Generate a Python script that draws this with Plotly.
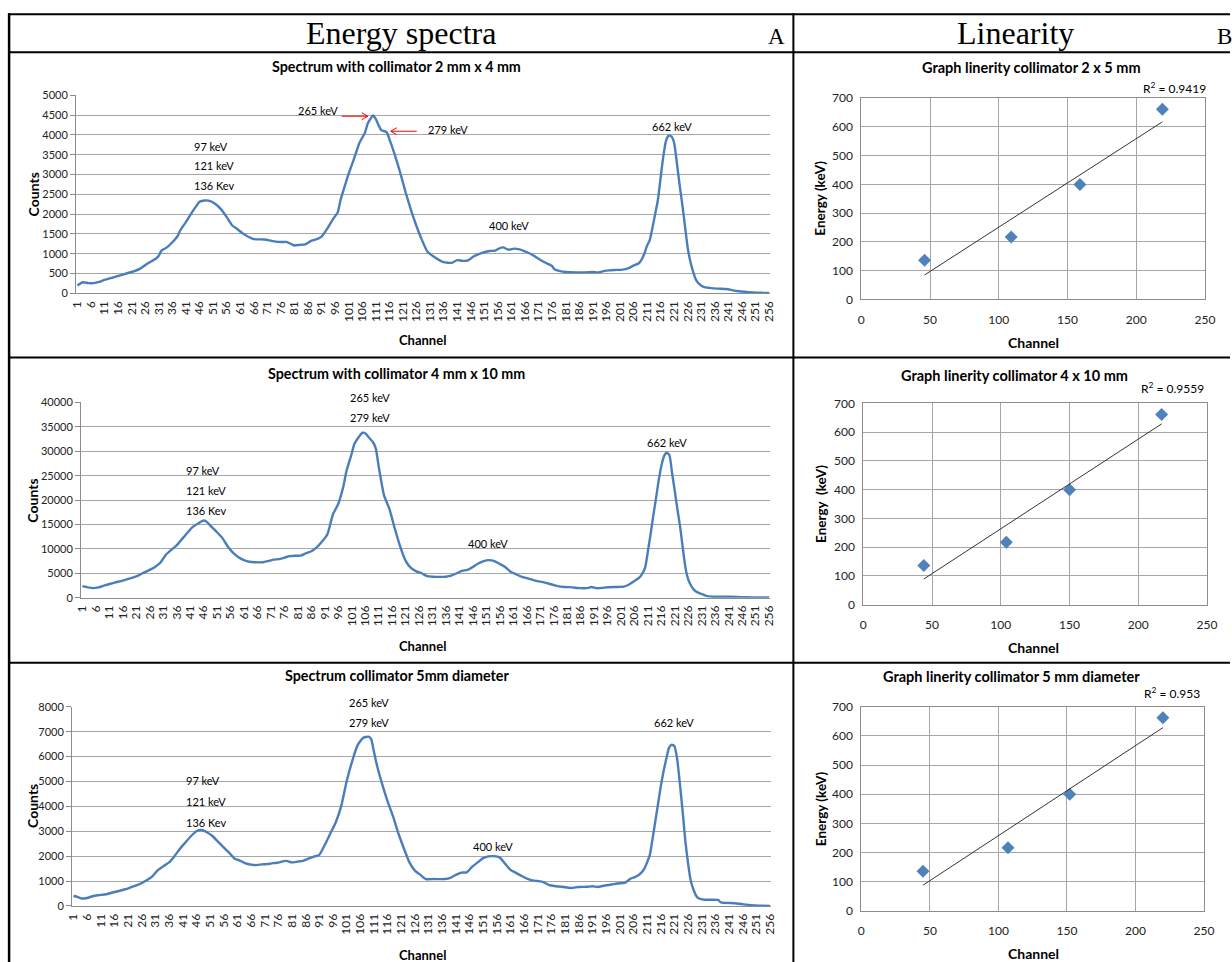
import plotly.graph_objects as go
import numpy as np

# Layout is specified in reference-image pixels and mapped to the page.
REF_W, REF_H = 1232, 962
OX, OY = 8, 8
SX, SY = REF_W / (REF_W + 2 * OX), REF_H / (REF_H + 2 * OY)
W, H = REF_W + OX, REF_H + OY

# ---------------- DATA ----------------
# Spectrum 1: collimator 2 mm x 4 mm (channel, counts)
ch_a = [1, 3, 5, 7, 9, 11, 14, 17, 21, 24, 27, 30, 31, 32, 34, 36, 38, 39, 41, 43, 45, 46, 48, 50, 52,
        54, 56, 58, 60, 62, 64, 66, 70, 73, 76, 78, 80, 81, 83, 85, 87, 89, 91, 93, 95, 97, 98, 100, 101,
        103, 105, 107, 108, 109, 110, 111, 112, 113, 115, 116, 118, 120, 122, 124, 126, 128, 130, 133,
        136, 139, 141, 143, 145, 147, 149, 151, 153, 155, 157, 158, 160, 162, 164, 166, 168, 170, 172,
        174, 176, 177, 179, 181, 185, 188, 191, 193, 195, 197, 199, 202, 204, 206, 208, 209, 210, 211,
        212, 213, 214, 215, 216, 217, 218, 219, 220, 221, 222, 223, 224, 225, 226, 227, 228, 229, 230,
        232, 234, 237, 240, 242, 244, 247, 250, 253, 256]
cnt_a = [200, 280, 260, 260, 290, 340, 400, 460, 540, 620, 760, 880, 950, 1080, 1160, 1290, 1450, 1600,
         1800, 2020, 2220, 2310, 2345, 2330, 2250, 2120, 1930, 1720, 1620, 1510, 1430, 1370, 1360, 1320,
         1295, 1300, 1240, 1210, 1225, 1235, 1320, 1360, 1430, 1620, 1850, 2050, 2350, 2800, 3020, 3400,
         3800, 4050, 4280, 4400, 4490, 4400, 4250, 4120, 4070, 3900, 3500, 3050, 2550, 2100, 1700, 1350,
         1060, 900, 790, 770, 840, 820, 830, 930, 990, 1040, 1070, 1080, 1150, 1160, 1100, 1130, 1110,
         1060, 1000, 920, 830, 760, 690, 600, 560, 540, 530, 530, 540, 530, 560, 580, 590, 600, 630, 700,
         760, 850, 1000, 1200, 1340, 1650, 2000, 2350, 2900, 3450, 3850, 3980, 3960, 3800, 3300, 2750,
         2250, 1700, 1150, 800, 550, 350, 250, 160, 140, 120, 110, 90, 60, 40, 25, 15, 10]

# Spectrum 2: collimator 4 mm x 10 mm
ch_b = [1, 3, 5, 7, 9, 11, 13, 16, 19, 21, 23, 26, 28, 30, 32, 34, 36, 38, 40, 42, 44, 46, 47, 49, 51,
        53, 55, 57, 59, 61, 63, 65, 68, 70, 72, 74, 76, 78, 80, 82, 84, 86, 88, 90, 92, 94, 96, 98, 99,
        101, 102, 104, 105, 106, 107, 109, 110, 111, 113, 115, 117, 119, 121, 123, 125, 127, 129, 131,
        136, 138, 140, 142, 144, 146, 148, 150, 152, 154, 156, 158, 160, 162, 164, 166, 168, 170, 172,
        174, 176, 178, 180, 183, 186, 189, 190, 192, 194, 196, 200, 202, 204, 206, 208, 209, 210, 211,
        212, 213, 214, 215, 216, 217, 218, 219, 220, 221, 222, 223, 224, 225, 226, 227, 228, 229, 231,
        233, 235, 238, 242, 246, 250, 256]
cnt_b = [2350, 2100, 1950, 2100, 2450, 2800, 3100, 3500, 4000, 4350, 4900, 5700, 6300, 7200, 8800, 9800,
         10700, 12000, 13300, 14500, 15200, 15800, 15600, 14500, 13400, 12200, 10500, 9200, 8300, 7700,
         7350, 7250, 7250, 7500, 7800, 7900, 8200, 8500, 8600, 8600, 9100, 9500, 10300, 11500, 13000,
         17000, 19200, 23000, 25800, 29500, 31500, 33200, 33800, 33700, 33100, 31800, 30500, 27000,
         21000, 18200, 14200, 10500, 7600, 6100, 5400, 5000, 4400, 4300, 4300, 4500, 5000, 5500, 5700,
         6300, 7000, 7500, 7700, 7500, 6900, 6300, 5300, 4800, 4300, 4000, 3700, 3400, 3200, 2900, 2600,
         2300, 2200, 2100, 1950, 2000, 2200, 1950, 2000, 2150, 2200, 2250, 2700, 3400, 4200, 5000, 6200,
         9500, 13000, 16800, 20300, 24000, 27000, 29000, 29700, 29200, 25500, 21800, 18000, 14400, 10000,
         6000, 3700, 2500, 1700, 1200, 750, 300, 200, 200, 180, 100, 60, 50]

# Spectrum 3: collimator 5 mm diameter
ch_c = [1, 2, 4, 6, 8, 10, 13, 15, 18, 20, 22, 25, 27, 30, 32, 34, 36, 38, 40, 42, 44, 46, 48, 50, 52,
        54, 56, 58, 60, 62, 64, 66, 68, 70, 72, 74, 76, 78, 79, 81, 83, 85, 87, 89, 91, 93, 95, 97, 99,
        101, 103, 105, 107, 109, 110, 111, 112, 114, 116, 118, 120, 122, 124, 126, 128, 130, 133, 137,
        139, 141, 143, 145, 147, 149, 151, 153, 155, 157, 159, 161, 163, 165, 167, 169, 171, 173, 175,
        177, 180, 183, 186, 189, 191, 193, 195, 198, 200, 203, 205, 207, 209, 210, 211, 212, 213, 214,
        215, 216, 217, 218, 219, 220, 221, 222, 223, 224, 225, 226, 227, 228, 229, 230, 232, 237, 238,
        243, 246, 249, 252, 256]
cnt_c = [400, 380, 300, 320, 390, 430, 470, 530, 610, 670, 750, 870, 980, 1200, 1450, 1600, 1750, 2000,
         2300, 2550, 2800, 3000, 3050, 2950, 2800, 2570, 2350, 2140, 1900, 1820, 1710, 1660, 1640, 1670,
         1680, 1720, 1740, 1800, 1810, 1750, 1780, 1810, 1900, 1980, 2050, 2450, 2900, 3350, 4000, 5000,
         5800, 6450, 6750, 6800, 6700, 6200, 5700, 4900, 4200, 3600, 2900, 2300, 1750, 1420, 1250, 1080,
         1080, 1080, 1130, 1250, 1340, 1350, 1580, 1750, 1920, 1990, 2000, 1950, 1700, 1450, 1330, 1210,
         1100, 1030, 1000, 960, 850, 800, 770, 720, 760, 770, 790, 760, 810, 860, 900, 940, 1100, 1180,
         1350, 1500, 1750, 2050, 2700, 3400, 4100, 4800, 5400, 5900, 6350, 6480, 6420, 5900, 4900, 3800,
         2600, 1700, 1000, 650, 400, 300, 250, 240, 140, 110, 70, 30, 10, 5]

# Linearity: peak channel vs energy
energies = [136, 217, 400, 662]
peak_ch_a = [46, 109, 159, 219]
peak_ch_b = [44, 104, 150, 217]
peak_ch_c = [45, 107, 152, 220]

channel_ticks = list(range(1, 257, 5))

titles_left = ["Spectrum with collimator 2 mm x 4 mm",
               "Spectrum with collimator 4 mm x 10 mm",
               "Spectrum collimator 5mm diameter"]
titles_right = ["Graph linerity collimator 2 x 5 mm",
                "Graph linerity collimator 4 x 10 mm",
                "Graph linerity collimator 5 mm diameter"]
ytitles_right = ["Energy (keV)", "Energy  (keV)", "Energy (keV)"]

# ---------------- FIGURE ----------------
fig = go.Figure()
BLUE = "#4a7ebb"
GRID = "#a6a6a6"
FONT = "Lato"
CLEAR = "rgba(0,0,0,0)"


def px(x):
    return (x / SX - OX) / W


def py(y):
    return 1 - (y / SY - OY) / H


def xd(a, b):
    return [px(a), px(b)]


def yd(top, bottom):
    return [py(bottom), py(top)]


# (x0, x1, y_top, y_bottom, ymax, dtick) in reference pixels
left_boxes = [(77, 772, 95, 293, 5000, 500),
              (82, 772, 402, 597, 40000, 5000),
              (73, 773, 706, 905, 8000, 1000)]
right_boxes = [(863, 1207, 98, 299),
               (865, 1209, 403, 604),
               (863, 1206, 706, 910)]

spectra = [(ch_a, cnt_a), (ch_b, cnt_b), (ch_c, cnt_c)]
peaks = [peak_ch_a, peak_ch_b, peak_ch_c]

for i, ((cx, cy), box) in enumerate(zip(spectra, left_boxes)):
    n = i + 1
    fig.add_trace(go.Scatter(x=cx, y=cy, mode="lines",
                             line=dict(color=BLUE, width=2.4, shape="spline", smoothing=0.5),
                             xaxis=f"x{n}", yaxis=f"y{n}", showlegend=False, hoverinfo="skip"))
    x0, x1, yt, yb, ymax, dt = box
    fig.update_layout(**{
        f"xaxis{n}": dict(domain=xd(x0, x1), anchor=f"y{n}", range=[0.5, 256.5],
                          tickvals=channel_ticks, ticktext=[str(v) for v in channel_ticks],
                          tickangle=-90, tickfont=dict(family=FONT, size=12, color="#222"),
                          showgrid=False, zeroline=False, showline=True, linecolor="#8c8c8c",
                          linewidth=1, ticks="outside", ticklen=2, tickcolor=CLEAR,
                          fixedrange=True),
        f"yaxis{n}": dict(domain=yd(yt, yb), anchor=f"x{n}", range=[0, ymax], dtick=dt,
                          tickformat="d",
                          tickfont=dict(family=FONT, size=11, color="#222"),
                          showgrid=True, gridcolor=GRID, gridwidth=1.2, zeroline=False,
                          showline=True, linecolor="#8c8c8c", ticks="outside", ticklen=5,
                          tickcolor="#8c8c8c", fixedrange=True),
    })

for i, (pk, box) in enumerate(zip(peaks, right_boxes)):
    n = i + 4
    x0, x1, yt, yb = box
    fig.add_trace(go.Scatter(x=pk, y=energies, mode="markers",
                             marker=dict(symbol="diamond", size=10, color="#4f81bd"),
                             xaxis=f"x{n}", yaxis=f"y{n}", showlegend=False, hoverinfo="skip"))
    slope, icpt = np.polyfit(pk, energies, 1)
    xs = np.array([min(pk), max(pk)])
    fig.add_trace(go.Scatter(x=xs, y=slope * xs + icpt, mode="lines",
                             line=dict(color="#333333", width=1),
                             xaxis=f"x{n}", yaxis=f"y{n}", showlegend=False, hoverinfo="skip"))
    fig.update_layout(**{
        f"xaxis{n}": dict(domain=xd(x0, x1), anchor=f"y{n}", range=[0, 250], dtick=50,
                          tickfont=dict(family=FONT, size=12, color="#222"),
                          showgrid=True, gridcolor=GRID, zeroline=False, showline=True,
                          linecolor="#8c8c8c", mirror=True, ticks="outside", ticklen=9,
                          tickcolor=CLEAR, fixedrange=True),
        f"yaxis{n}": dict(domain=yd(yt, yb), anchor=f"x{n}", range=[0, 700], dtick=100,
                          tickfont=dict(family=FONT, size=12, color="#222"),
                          showgrid=True, gridcolor=GRID, zeroline=False, showline=True,
                          linecolor="#8c8c8c", mirror=True, ticks="outside", ticklen=5,
                          tickcolor=CLEAR, fixedrange=True),
    })


def txt(x, y, s, size=11, family=FONT, xanchor="center", angle=0, color="black"):
    fig.add_annotation(x=px(x), y=py(y), xref="paper", yref="paper", text=s,
                       showarrow=False, xanchor=xanchor, yanchor="middle", textangle=angle,
                       font=dict(family=family, size=size, color=color))


def seg(x0, y0, x1, y1, color="black", w=1.0):
    fig.add_shape(type="line", xref="paper", yref="paper", x0=px(x0), x1=px(x1),
                  y0=py(y0), y1=py(y1), line=dict(color=color, width=w))


def arrow(x_tail, x_head, y):
    d = 6 if x_head > x_tail else -6
    seg(x_tail, y, x_head, y, "red", 1)
    seg(x_head, y, x_head - d, y - 3.5, "red", 1)
    seg(x_head, y, x_head - d, y + 3.5, "red", 1)


# header
SERIF = "Liberation Serif"
txt(402, 33, "Energy spectra", size=32, family=SERIF)
txt(778, 36, "A", size=23, family=SERIF)
txt(1017, 33, "Linearity", size=32, family=SERIF)
txt(1217, 36, "B", size=23, family=SERIF, xanchor="left")

# left chart titles / axis titles
for (ty, cy, chy), t in zip([(66, 194, 340), (373, 500, 645), (675, 805, 954)], titles_left):
    txt(398, ty, f"<b>{t}</b>", size=14.3)
    txt(34, cy, "<b>Counts</b>", size=14, angle=-90)
    txt(424, chy, "<b>Channel</b>", size=13)

# right chart titles / axis titles / R2
r_title_pos = [(1033, 67), (1016, 375), (1013, 676)]
r_chan_y = [342, 647, 953]
r_r2_pos = [(1176, 88), (1174, 388), (1174, 692)]
r_ytitle_cy = [198, 503, 808]
for i, pk in enumerate(peaks):
    r2 = np.corrcoef(pk, energies)[0, 1] ** 2
    r2s = f"{r2:.4f}".rstrip("0")
    txt(*r_title_pos[i], f"<b>{titles_right[i]}</b>", size=14.5)
    txt(1035, r_chan_y[i], "<b>Channel</b>", size=14)
    txt(822, r_ytitle_cy[i], f"<b>{ytitles_right[i]}</b>", size=13.5, angle=-90)
    txt(*r_r2_pos[i], f"R<sup>2</sup> = {r2s}", size=12)

# peak labels - chart 1
txt(193, 146, "97 keV", xanchor="left")
txt(193, 165, "121 keV", xanchor="left")
txt(193, 185, "136 Kev", xanchor="left")
txt(319, 110, "265 keV")
txt(449, 129, "279 keV")
txt(673, 126, "662 keV")
txt(510, 225, "400 keV")
arrow(343, 369, 116)
arrow(418, 392, 131)
# chart 2
txt(185, 470, "97 keV", xanchor="left")
txt(185, 490, "121 keV", xanchor="left")
txt(185, 510, "136 Kev", xanchor="left")
txt(371, 397, "265 keV")
txt(371, 417, "279 keV")
txt(489, 543, "400 keV")
txt(668, 442, "662 keV")
# chart 3
txt(185, 780, "97 keV", xanchor="left")
txt(185, 801, "121 keV", xanchor="left")
txt(185, 822, "136 Kev", xanchor="left")
txt(370, 702, "265 keV")
txt(370, 722, "279 keV")
txt(494, 846, "400 keV")
txt(675, 722, "662 keV")

# table borders
for yy in (14, 52, 357, 662):
    seg(9, yy, 1232, yy, "black", 2)
seg(10, 13, 10, 962, "black", 2.5)
seg(795, 13, 795, 962, "black", 2)

fig.update_layout(width=W, height=H, margin=dict(l=0, r=0, t=0, b=0),
                  paper_bgcolor="white", plot_bgcolor="white", showlegend=False)

fig.write_html("out.html", config={"displayModeBar": False},
               post_script="document.body.style.margin='0';document.body.style.overflow='hidden';")
